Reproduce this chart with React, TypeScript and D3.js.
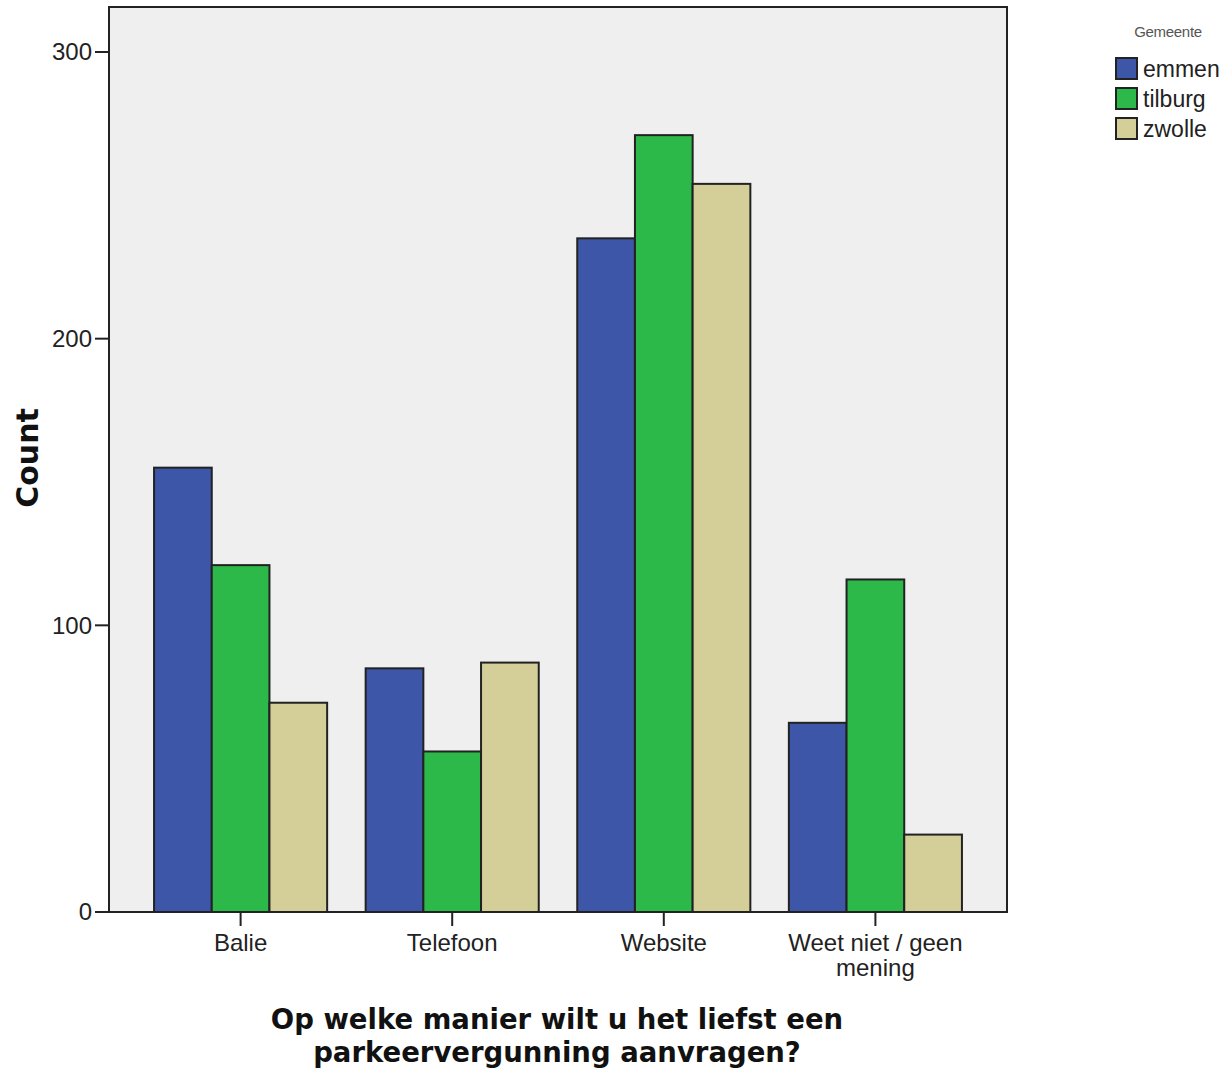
import React from "react";
import * as d3 from "d3";

const categories = ["Balie", "Telefoon", "Website", "Weet niet / geen mening"];
const categoryLines = [["Balie"], ["Telefoon"], ["Website"], ["Weet niet / geen", "mening"]];
const seriesNames = ["emmen", "tilburg", "zwolle"];
const emmen = [155, 85, 235, 66];
const tilburg = [121, 56, 271, 116];
const zwolle = [73, 87, 254, 27];
const yTicks = [0, 100, 200, 300];
const colors = ["#3d56a8", "#2db84a", "#d4cf99"];

export default function App() {
  const W = 1224, H = 1071;
  const frame = { left: 109, right: 1007, top: 7, bottom: 912 };
  const y = d3.scaleLinear().domain([0, 300]).range([912, 52]);
  const x = d3.scaleBand<string>().domain(categories).range([134.8, 981.2]).paddingInner(0.182).paddingOuter(0.091);
  const xs = d3.scaleBand<string>().domain(seriesNames).range([0, x.bandwidth()]);
  const series = [emmen, tilburg, zwolle];
  const font = "'Liberation Sans', Arial, sans-serif";
  const bold = "'DejaVu Sans', Verdana, sans-serif";
  return (
    <svg width={W} height={H} style={{ position: "absolute", left: 0, top: 0 }}>
      <rect x={0} y={0} width={W} height={H} fill="#fff" />
      <rect x={frame.left} y={frame.top} width={frame.right - frame.left} height={frame.bottom - frame.top} fill="#efefef" stroke="#222" strokeWidth={2} />
      {categories.map((c, i) =>
        series.map((s, j) => (
          <rect key={c + j} x={(x(c) as number) + (xs(seriesNames[j]) as number)} y={y(s[i])} width={xs.bandwidth()} height={y(0) - y(s[i])} fill={colors[j]} stroke="#222" strokeWidth={2} />
        ))
      )}
      <line x1={frame.left} x2={frame.right} y1={y(0)} y2={y(0)} stroke="#222" strokeWidth={2} />
      {yTicks.map((t) => (
        <g key={t}>
          <line x1={frame.left - 14} x2={frame.left} y1={y(t)} y2={y(t)} stroke="#222" strokeWidth={2} />
          <text x={frame.left - 17} y={y(t)} dy="0.35em" textAnchor="end" fontFamily={font} fontSize={24} fill="#222">{t}</text>
        </g>
      ))}
      {categories.map((c, i) => {
        const cx = (x(c) as number) + x.bandwidth() / 2;
        return (
          <g key={c}>
            <line x1={cx} x2={cx} y1={y(0)} y2={y(0) + 14} stroke="#222" strokeWidth={2} />
            {categoryLines[i].map((l, k) => (
              <text key={k} x={cx} y={951 + k * 25} textAnchor="middle" fontFamily={font} fontSize={24} fill="#222">{l}</text>
            ))}
          </g>
        );
      })}
      <text transform="translate(38,458) rotate(-90)" textAnchor="middle" fontFamily={bold} fontWeight="bold" fontSize={30} fill="#111">Count</text>
      <text x={557} y={1029} textAnchor="middle" fontFamily={bold} fontWeight="bold" fontSize={27.5} fill="#111">Op welke manier wilt u het liefst een</text>
      <text x={557} y={1062} textAnchor="middle" fontFamily={bold} fontWeight="bold" fontSize={27.5} fill="#111">parkeervergunning aanvragen?</text>
      <text x={1168} y={37} textAnchor="middle" fontFamily={font} fontSize={15} letterSpacing={-0.3} fill="#555">Gemeente</text>
      {seriesNames.map((n, j) => (
        <g key={n}>
          <rect x={1116} y={58 + j * 30} width={21} height={21} fill={colors[j]} stroke="#222" strokeWidth={2} />
          <text x={1143} y={69 + j * 30} dy="0.35em" fontFamily={font} fontSize={23} fill="#222">{n}</text>
        </g>
      ))}
    </svg>
  );
}
